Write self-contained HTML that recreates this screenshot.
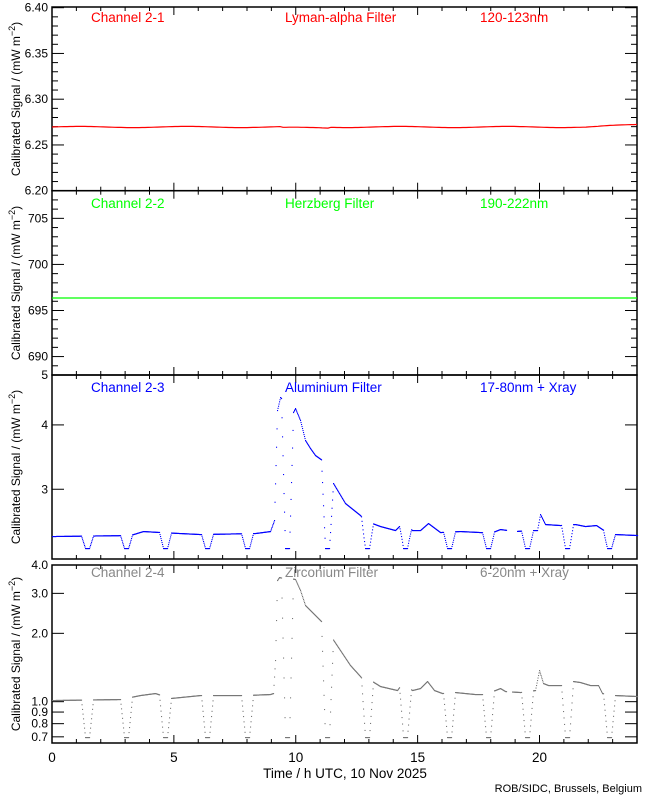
<!DOCTYPE html>
<html><head><meta charset="utf-8"><style>
html,body{margin:0;padding:0;background:#fff;}
svg{display:block;font-family:"Liberation Sans",sans-serif;}
</style></head><body>
<svg id="s" width="650" height="800" xmlns="http://www.w3.org/2000/svg"></svg>
<script>
const s=document.getElementById('s');
let h='';
const L=52,R=637;
const X=t=>L+t*(R-L)/24;
const panels=[[7,190.7],[190.7,375],[375,559],[565,743]];
panels.forEach(([t,b])=>{
 h+=`<rect x="${L}" y="${t}" width="${R-L}" height="${b-t}" fill="none" stroke="#000" stroke-width="1.5"/>`;
 for(let i=1;i<24;i++){const x=X(i),len=i%5==0?8:4;
  h+=`<line x1="${x}" y1="${t}" x2="${x}" y2="${t+len}" stroke="#000"/><line x1="${x}" y1="${b}" x2="${x}" y2="${b-len}" stroke="#000"/>`;}
});
function ytick(y,len,lab){
 h+=`<line x1="${L}" y1="${y}" x2="${L+len}" y2="${y}" stroke="#000"/><line x1="${R}" y1="${y}" x2="${R-len}" y2="${y}" stroke="#000"/>`;
 if(lab!==undefined) h+=`<text x="${L-4}" y="${y+4}" font-size="12" text-anchor="end">${lab}</text>`;
}
for(let i=0;i<=20;i++){const v=6.2+i*0.01,y=190.7-(v-6.2)*915;
 if(i%5==0) ytick(y,12,v.toFixed(2)); else ytick(y,6);}
for(let v=689;v<=708;v++){const y=190.7+(708-v)*9.215;
 if(v%5==0) ytick(y,12,v); else ytick(y,6);}
const Y3=v=>375+(Math.log10(5)-Math.log10(v))*515;
[3,4,5].forEach(v=>ytick(Y3(v),12,v));
const Y4=v=>565+(Math.log10(4)-Math.log10(v))*227;
[[4,'4.0'],[3,'3.0'],[2,'2.0'],[1,'1.0'],[0.9,'0.9'],[0.8,'0.8'],[0.7,'0.7']].forEach(([v,l])=>ytick(Y4(v),12,l));
[[99],[283],[467],[654]].forEach(([c])=>{
 h+=`<text transform="translate(20,${c}) rotate(-90)" font-size="12" text-anchor="middle">Calibrated Signal  /  (mW  m<tspan dy="-5" font-size="9">−2</tspan><tspan dy="5">)</tspan></text>`;});
const tt=[[22,'#ff0000','Channel 2-1','Lyman-alpha Filter','120-123nm'],[208,'#00ff00','Channel 2-2','Herzberg Filter','190-222nm'],[392,'#0000ff','Channel 2-3','Aluminium Filter','17-80nm + Xray'],[577,'#888888','Channel 2-4','Zirconium Filter','6-20nm + Xray']];
tt.forEach(([y,c,a,b,d])=>{h+=`<g fill="${c}" font-size="13.5"><text x="91" y="${y}">${a}</text><text x="285" y="${y}">${b}</text><text x="480" y="${y}">${d}</text></g>`;});
[0,5,10,15,20].forEach(t=>h+=`<text x="${X(t)}" y="762" font-size="13.5" text-anchor="middle">${t}</text>`);
h+=`<text x="345" y="778" font-size="13.5" text-anchor="middle">Time / h UTC, 10 Nov 2025</text>`;
h+=`<text x="642" y="792" font-size="11" text-anchor="end">ROB/SIDC, Brussels, Belgium</text>`;
// panel1 line with slight steps
let p1='';
for(let x=52;x<=637;x+=3){const y=127+0.6*Math.sin(x/17)+ (x>280&&x<330?0.8:0) - (x>590?(x-590)/20:0);p1+=`${x},${y.toFixed(1)} `;}
h+=`<polyline fill="none" stroke="#f00" stroke-width="1.2" points="${p1}"/>`;
h+=`<line x1="52" y1="298" x2="637" y2="298" stroke="#00ff00" stroke-width="1.2"/>`;
function interp(k,x){for(let i=0;i<k.length-1;i++){if(x>=k[i][0]&&x<=k[i+1][0]){const f=(x-k[i][0])/(k[i+1][0]-k[i][0]);return k[i][1]+f*(k[i+1][1]-k[i][1]);}}return k[k.length-1][1];}
const dips=[87,126,165,207,247,287,327,367,405,449,488,527,567,609];
function draw(k,floor,col,gaps){
 for(let x=L;x<=R;x+=0.5){
  if(gaps.some(g=>x>g[0]&&x<g[1]))continue;
  let y=interp(k,x);
  dips.forEach(c=>{const d=Math.abs(x-c);let f=0;if(d<2)f=1;else if(d<6)f=(6-d)/4;y=y+(floor-y)*f;});
  h+=`<rect x="${x.toFixed(1)}" y="${y.toFixed(1)}" width="1.1" height="1.1" fill="${col}"/>`;
 }
}
const k3=[[52,536],[130,535],[143,531],[160,532],[200,534],[255,533],[270,531],[274,520],[277,410],[280,397],[283,400],[290,418],[295,408],[300,420],[305,440],[310,448],[315,455],[322,460],[325,467],[330,484],[333,483],[345,503],[360,515],[364,520],[372,523],[380,526],[395,530],[402,523],[412,530],[420,530],[428,523],[440,532],[460,531],[480,532],[490,533],[500,529],[515,531],[530,530],[537,530],[540,514],[545,524],[560,525],[575,524],[585,526],[596,525],[605,531],[615,534],[637,535]];
draw(k3,548,'#0000ff',[[506,517]]);
const k4=[[52,700],[120,699],[140,695],[155,693],[170,698],[200,695],[245,695],[270,694],[273,693],[275,660],[277,580],[279,577],[283,578],[290,578],[295,579],[300,590],[305,605],[312,612],[318,618],[322,622],[332,638],[340,650],[350,665],[360,676],[363,680],[372,681],[380,686],[397,690],[402,683],[412,690],[420,688],[427,681],[434,690],[442,693],[455,692],[475,694],[483,694],[495,690],[500,688],[505,691],[520,692],[535,690],[539,670],[543,683],[548,685],[563,685],[573,681],[580,682],[590,685],[598,685],[602,693],[615,695],[637,696]];
draw(k4,737,'#777777',[[506,512]]);
s.innerHTML=h;
</script>
</body></html>
